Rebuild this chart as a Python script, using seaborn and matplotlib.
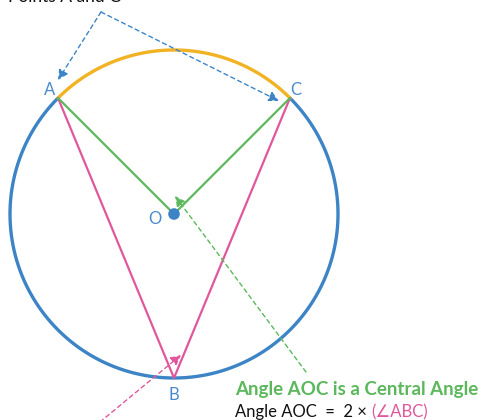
import numpy as np
import pandas as pd
import matplotlib.pyplot as plt
import seaborn as sb

# geometry in picture pixels (y grows downwards)
center = (174, 214)
radius = 164
pointNames = ['A', 'B', 'C']
pointAngles = [135, 270, 45]          # degrees, measured anticlockwise
minorArc = (45, 135)                  # orange arc between A and C

sb.set_style('white')
plt.rcParams['font.family'] = ['Lato', 'DejaVu Sans']

blue = '#3D84C6'
orange = '#F1B324'
pink = '#E0579B'
green = '#5CB85C'


def onCircle(deg):
    t = np.radians(deg)
    return center[0] + radius * np.cos(t), center[1] - radius * np.sin(t)


pts = {n: onCircle(a) for n, a in zip(pointNames, pointAngles)}

fig = plt.figure(figsize=(4.8, 4.2), dpi=100)
ax = fig.add_axes([0, 0, 1, 1])

# major arc (blue) and minor arc (orange)
major = np.linspace(minorArc[1], 360 + minorArc[0], 300)
minor = np.linspace(minorArc[0], minorArc[1], 100)
majorDf = pd.DataFrame([onCircle(d) for d in major], columns=['x', 'y'])
minorDf = pd.DataFrame([onCircle(d) for d in minor], columns=['x', 'y'])
sb.lineplot(data=majorDf, x='x', y='y', sort=False, color=blue, lw=2.4, ax=ax)
sb.lineplot(data=minorDf, x='x', y='y', sort=False, color=orange, lw=2.4, ax=ax)

# inscribed angle ABC (pink)
pinkDf = pd.DataFrame([pts['A'], pts['B'], pts['C']], columns=['x', 'y'])
sb.lineplot(data=pinkDf, x='x', y='y', sort=False, color=pink, lw=1.6, ax=ax)

# central angle AOC (green)
greenDf = pd.DataFrame([pts['A'], center, pts['C']], columns=['x', 'y'])
sb.lineplot(data=greenDf, x='x', y='y', sort=False, color=green, lw=1.6, ax=ax)

sb.scatterplot(x=[center[0]], y=[center[1]], color=blue, s=70, edgecolor='none', ax=ax, zorder=5)

ax.set_xlim(0, 480)
ax.set_ylim(420, 0)
ax.axis('off')

# labels
lab = dict(color='#4A8ACB', fontsize=12, ha='center', va='center')
ax.text(50, 90, 'A', **lab)
ax.text(296, 90, 'C', **lab)
ax.text(155, 219, 'O', **lab)
ax.text(174, 395, 'B', **lab)

# dashed pointer arrows
def pointer(start, end, col):
    ax.annotate('', xy=end, xytext=start,
                arrowprops=dict(arrowstyle='-|>,head_length=0.6,head_width=0.3', color=col,
                                linestyle=(0, (3, 2.5)), lw=1.0, shrinkA=0, shrinkB=0))

pointer((101, 12), (58, 80), blue)
pointer((101, 12), (279, 101), blue)
pointer((306, 372), (175, 196), green)
pointer((100, 422), (181, 355), pink)

ax.text(8, -3, 'Points A and C', fontsize=12.5, color='#111111', va='center', ha='left')
ax.text(235, 389, 'Angle AOC is a Central Angle', fontsize=13.5, fontweight='bold',
        color=green, va='center', ha='left')
t1 = ax.text(235, 412, 'Angle AOC  =  2 × ', fontsize=12, color='#111111', va='center', ha='left')
fig.canvas.draw()
bb = t1.get_window_extent().transformed(ax.transData.inverted())
ax.text(bb.x1, 412, '(∠ABC)', fontsize=12, color=pink, va='center', ha='left')

fig.savefig('out.png', dpi=100)
